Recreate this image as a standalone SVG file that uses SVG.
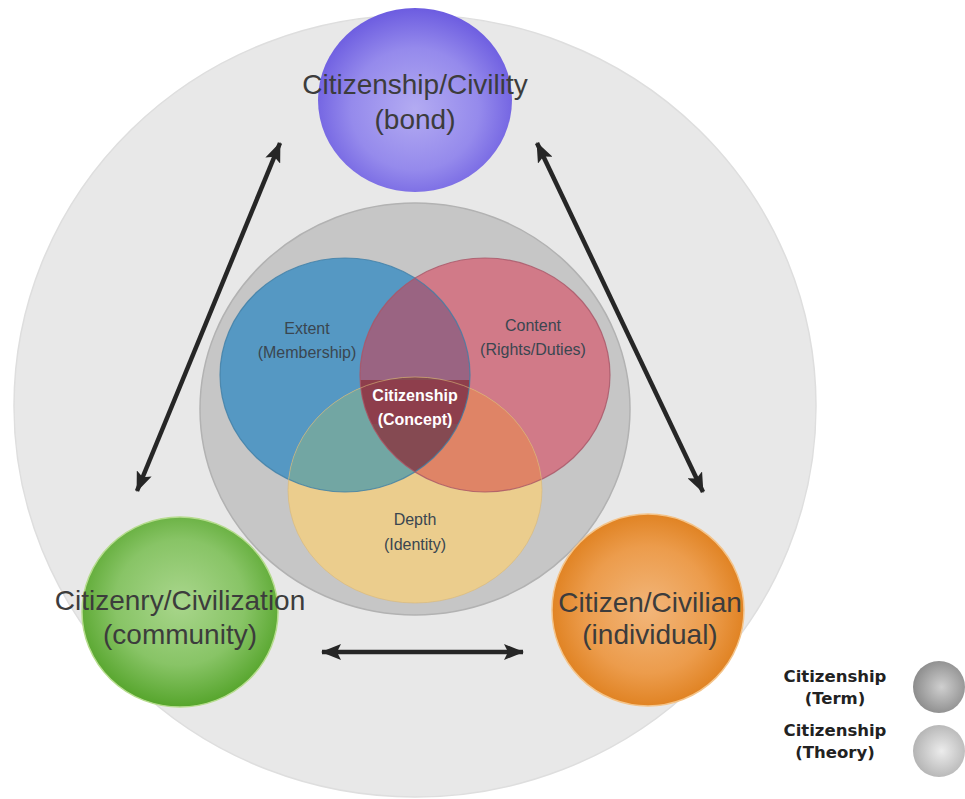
<svg xmlns="http://www.w3.org/2000/svg" width="965" height="799" viewBox="0 0 965 799">
  <defs>
    <style>
      .big { font-family: "Liberation Sans", Arial, sans-serif; font-size: 28px; fill: #3c3c3c; text-anchor: middle; }
      .venn { font-family: "Liberation Sans", Arial, sans-serif; font-size: 16px; fill: #3a4650; text-anchor: middle; }
      .core { font-family: "Liberation Sans", Arial, sans-serif; font-size: 16px; font-weight: bold; fill: #ffffff; text-anchor: middle; }
      .legend { font-family: "DejaVu Sans", Verdana, sans-serif; font-size: 16.5px; font-weight: bold; fill: #222222; text-anchor: middle; }
      .conn { stroke: #262626; stroke-width: 4.5; fill: none; marker-start: url(#head); marker-end: url(#head); }
    </style>
    <marker id="head" viewBox="0 0 20 16" refX="19" refY="8" markerWidth="20" markerHeight="16" markerUnits="userSpaceOnUse" orient="auto-start-reverse">
      <path d="M0,0 L20,8 L0,16 L4,8 Z" fill="#262626"/>
    </marker>
    <radialGradient id="gPurple" cx="50%" cy="55%" r="55%">
      <stop offset="0" stop-color="#b3abf2"/>
      <stop offset="0.6" stop-color="#958aec"/>
      <stop offset="1" stop-color="#6c5ce0"/>
    </radialGradient>
    <radialGradient id="gGreen" cx="50%" cy="45%" r="55%">
      <stop offset="0" stop-color="#a9d68c"/>
      <stop offset="0.6" stop-color="#88c466"/>
      <stop offset="1" stop-color="#56a52c"/>
    </radialGradient>
    <radialGradient id="gOrange" cx="50%" cy="50%" r="55%">
      <stop offset="0" stop-color="#f2b67a"/>
      <stop offset="0.6" stop-color="#ec9c4c"/>
      <stop offset="1" stop-color="#dd7c18"/>
    </radialGradient>
    <radialGradient id="gTerm" cx="55%" cy="50%" r="55%">
      <stop offset="0" stop-color="#cfcfcf"/>
      <stop offset="1" stop-color="#8c8c8c"/>
    </radialGradient>
    <radialGradient id="gTheory" cx="55%" cy="50%" r="55%">
      <stop offset="0" stop-color="#ececec"/>
      <stop offset="1" stop-color="#b4b4b4"/>
    </radialGradient>
    <clipPath id="clipBlue"><ellipse cx="345" cy="375" rx="125" ry="117"/></clipPath>
    <clipPath id="clipRed"><ellipse cx="485" cy="375" rx="125" ry="117"/></clipPath>
  </defs>

  <rect width="965" height="799" fill="#ffffff"/>

  <!-- theory ring -->
  <g id="theory">
    <ellipse cx="415" cy="406" rx="401" ry="391" fill="#e8e8e8" stroke="#dedede" stroke-width="1.5"/>
  </g>

  <!-- term disc holding the concept venn -->
  <g id="term">
    <ellipse cx="415" cy="409" rx="215" ry="206" fill="#c6c6c6" stroke="#b2b2b2" stroke-width="1.5"/>
  </g>

  <g id="concept-venn">
    <ellipse id="extent" cx="345" cy="375" rx="125" ry="117" fill="#5598c3"/>
    <ellipse id="content" cx="485" cy="375" rx="125" ry="117" fill="#d17a88"/>
    <ellipse id="depth" cx="415" cy="490" rx="127" ry="113" fill="#ebcd8d"/>
    <!-- pairwise overlaps -->
    <g clip-path="url(#clipBlue)">
      <ellipse cx="485" cy="375" rx="125" ry="117" fill="#9a6482"/>
      <ellipse cx="415" cy="490" rx="127" ry="113" fill="#72a6a3"/>
    </g>
    <g clip-path="url(#clipRed)">
      <ellipse cx="415" cy="490" rx="127" ry="113" fill="#df8466"/>
    </g>
    <!-- triple overlap and label band -->
    <g clip-path="url(#clipBlue)">
      <g clip-path="url(#clipRed)">
        <ellipse cx="415" cy="490" rx="127" ry="113" fill="#854a52"/>
        <rect x="350" y="380" width="130" height="44" fill="#8e3e4c"/>
      </g>
    </g>
    <!-- outlines -->
    <ellipse cx="345" cy="375" rx="125" ry="117" fill="none" stroke="#3f7ea6" stroke-width="1.2" opacity="0.8"/>
    <ellipse cx="485" cy="375" rx="125" ry="117" fill="none" stroke="#a85567" stroke-width="1.2" opacity="0.8"/>
    <ellipse cx="415" cy="490" rx="127" ry="113" fill="none" stroke="#d8b878" stroke-width="1" opacity="0.6"/>

    <text class="venn" x="307" y="334">Extent</text>
    <text class="venn" x="307" y="358">(Membership)</text>
    <text class="venn" x="533" y="331">Content</text>
    <text class="venn" x="533" y="355">(Rights/Duties)</text>
    <text class="venn" x="415" y="525">Depth</text>
    <text class="venn" x="415" y="550">(Identity)</text>
    <text class="core" x="415" y="401">Citizenship</text>
    <text class="core" x="415" y="425">(Concept)</text>
  </g>

  <!-- connectors -->
  <g id="connectors">
    <line class="conn" x1="137" y1="491" x2="280" y2="143"/>
    <line class="conn" x1="703" y1="492" x2="537" y2="143"/>
    <line class="conn" x1="322" y1="652" x2="523" y2="652"/>
  </g>

  <g id="bond">
    <ellipse cx="415" cy="100" rx="97" ry="92" fill="url(#gPurple)"/>
    <text class="big" x="415" y="94">Citizenship/Civility</text>
    <text class="big" x="415" y="129">(bond)</text>
  </g>

  <g id="community">
    <ellipse cx="180" cy="612" rx="98" ry="95" fill="url(#gGreen)" stroke="#b6dc8e" stroke-width="1.5"/>
    <text class="big" x="180" y="610">Citizenry/Civilization</text>
    <text class="big" x="180" y="644">(community)</text>
  </g>

  <g id="individual">
    <ellipse cx="648" cy="610" rx="96" ry="96" fill="url(#gOrange)" stroke="#f4c48a" stroke-width="1.5"/>
    <text class="big" x="650" y="612">Citizen/Civilian</text>
    <text class="big" x="650" y="644">(individual)</text>
  </g>

  <g id="legend">
    <g id="legend-term">
      <text class="legend" x="835" y="682">Citizenship</text>
      <text class="legend" x="835" y="704">(Term)</text>
      <circle cx="939" cy="687" r="26" fill="url(#gTerm)"/>
    </g>
    <g id="legend-theory">
      <text class="legend" x="835" y="736">Citizenship</text>
      <text class="legend" x="835" y="758">(Theory)</text>
      <circle cx="939" cy="751" r="26" fill="url(#gTheory)"/>
    </g>
  </g>
</svg>
